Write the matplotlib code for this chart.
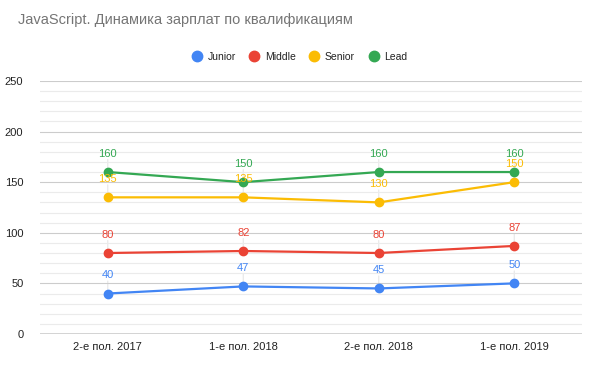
import matplotlib.pyplot as plt
from matplotlib.ticker import MultipleLocator

plt.rcParams["font.family"] = ["Liberation Sans", "DejaVu Sans"]

# Данные
periods = ["2-е пол. 2017", "1-е пол. 2018", "2-е пол. 2018", "1-е пол. 2019"]
junior = [40, 47, 45, 50]
middle = [80, 82, 80, 87]
senior = [135, 135, 130, 150]
lead = [160, 150, 160, 160]

series = [
    ("Junior", junior, "#4285F4"),
    ("Middle", middle, "#EA4335"),
    ("Senior", senior, "#FBBC04"),
    ("Lead", lead, "#34A853"),
]

fig = plt.figure(figsize=(6, 3.7), dpi=100)
ax = fig.add_axes([0.0667, 0.0973, 0.9033, 0.684])

x = list(range(len(periods)))
for name, vals, col in series:
    ax.plot(x, vals, color=col, lw=1.6, marker="o", ms=6, label=name, zorder=3)
    for xi, v in zip(x, vals):
        # тонкая линия-выноска под точкой
        ax.annotate("", (xi, v), xytext=(0, 9), textcoords="offset points",
                    zorder=1, arrowprops=dict(arrowstyle="-", color="#e6e6e6",
                                              lw=0.8, shrinkA=0, shrinkB=0))
        ax.annotate(str(v), (xi, v), xytext=(0, 13), textcoords="offset points",
                    ha="center", va="center", color=col, fontsize=8, zorder=4)

ax.set_xlim(-0.5, 3.5)
ax.set_ylim(0, 250)
ax.set_xticks(x)
ax.set_xticklabels(periods)
ax.yaxis.set_major_locator(MultipleLocator(50))
ax.yaxis.set_minor_locator(MultipleLocator(10))
ax.grid(axis="y", which="major", color="#cccccc", lw=0.8, zorder=0)
ax.grid(axis="y", which="minor", color="#ebebeb", lw=0.8, zorder=0)
ax.axhline(0, color="#333333", lw=1, zorder=2)
for s in ax.spines.values():
    s.set_visible(False)
ax.tick_params(axis="both", which="both", length=0, labelsize=8, colors="#222222")
ax.tick_params(axis="x", pad=6)
ax.tick_params(axis="y", pad=12)

fig.text(0.03, 0.945, "JavaScript. Динамика зарплат по квалификациям",
         fontsize=10.5, color="#757575", va="center", ha="left")

fig.legend(loc="center", bbox_to_anchor=(0.5, 0.846), ncol=4, frameon=False,
           fontsize=7.5, handlelength=0.8, handletextpad=0.6, columnspacing=1.4,
           labelcolor="#222222",
           handles=[plt.Line2D([], [], ls="", marker="o", ms=7.5, color=c)
                    for _, _, c in series],
           labels=[n for n, _, _ in series])

fig.savefig("out.png", dpi=100, facecolor="white")
